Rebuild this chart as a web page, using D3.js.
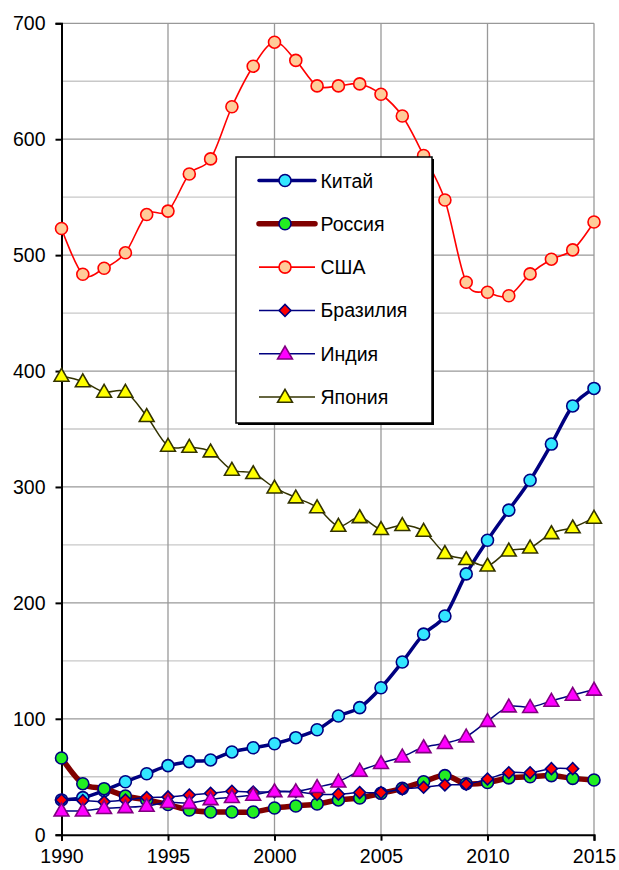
<!DOCTYPE html>
<html lang="ru">
<head>
  <meta charset="UTF-8">
  <script src="https://d3js.org/d3.v7.min.js"></script>
  <title>Chart</title>
  <style>
    body { margin: 0; background: white; font-family: "Liberation Sans", Arial, sans-serif; }
    svg text { font-family: "Liberation Sans", Arial, sans-serif; }
  </style>
</head>
<body>
<script>
  // Data
  const years = d3.range(1990, 2016);
  const china = [30, 32, 38, 45.7, 52.6, 59.6, 63, 64.5, 71.4, 75, 78.5, 83.7, 90.5, 102.4, 109.6, 126.8, 149, 173, 188.7, 225, 254, 280, 305.8, 337, 369.9, 385];
  const russia = [66.2, 44, 39.7, 33.4, 30, 26, 21.3, 19.6, 19.6, 19.6, 23, 24.8, 26.5, 30, 31.7, 35.7, 40, 45.7, 51, 44, 45, 49, 50, 51, 48.6, 47.2];
  const usa = [523, 483.5, 488.7, 502, 535, 538, 570, 583, 628, 663, 683.7, 668, 646, 646, 647.7, 638.8, 620, 586, 547.6, 476.6, 468, 465, 483.8, 496.5, 504.5, 528.6];
  const brazil = [30, 29.4, 28.5, 30, 32, 32.6, 34.2, 35.7, 37.4, 36.8, 37, 37, 34.8, 35, 36.3, 36.3, 39.4, 40.9, 42.9, 43.5, 48, 53.5, 53.5, 57, 57];
  const india = [20.7, 20.7, 22.8, 23.6, 24.8, 28, 27.3, 30.5, 32.3, 34.3, 37.4, 37.4, 41, 45.7, 55, 61.6, 67.3, 75.4, 78.9, 84.6, 98, 110.5, 110, 115.4, 120.5, 125];
  const japan = [395.8, 391, 382, 382, 361, 335.4, 334.5, 330.5, 314.7, 311.8, 299.4, 290.8, 282.3, 266.3, 273.8, 263.5, 267, 262, 242.8, 237.6, 232, 245, 247.6, 260, 265, 273.3];
  const yTicks = [0, 100, 200, 300, 400, 500, 600, 700];
  const xTicks = [1990, 1995, 2000, 2005, 2010, 2015];

  const series = [
    { name: "Китай", values: china, line: "#000080", width: 3.5, shape: "circle", fill: "#33e6ff", stroke: "#000080" },
    { name: "Россия", values: russia, line: "#800000", width: 5.5, shape: "circle", fill: "#22ee22", stroke: "#000080" },
    { name: "США", values: usa, line: "#ff0000", width: 1.6, shape: "circle", fill: "#ffcc99", stroke: "#ff0000" },
    { name: "Бразилия", values: brazil, line: "#000080", width: 1.5, shape: "diamond", fill: "#ff0000", stroke: "#000080" },
    { name: "Индия", values: india, line: "#000080", width: 1.5, shape: "triangle", fill: "#ff00ff", stroke: "#800080" },
    { name: "Япония", values: japan, line: "#333300", width: 1.5, shape: "triangle", fill: "#ffff00", stroke: "#333300" }
  ];

  const width = 619, height = 870;
  const svg = d3.select("body").append("svg")
    .attr("width", width)
    .attr("height", height);

  const x = d3.scaleLinear().domain([1990, 2015]).range([61.5, 594]);
  const y = d3.scaleLinear().domain([0, 700]).range([834.7, 23.3]);

  // Grid
  const grid = svg.append("g");
  grid.selectAll(".hminor")
    .data(d3.range(50, 700, 100))
    .enter().append("line")
    .attr("x1", x(1990)).attr("x2", x(2015))
    .attr("y1", d => y(d)).attr("y2", d => y(d))
    .attr("stroke", "#c8c8c8").attr("stroke-width", 1.3);
  grid.selectAll(".hmajor")
    .data(yTicks.slice(1))
    .enter().append("line")
    .attr("x1", x(1990)).attr("x2", x(2015))
    .attr("y1", d => y(d)).attr("y2", d => y(d))
    .attr("stroke", "#999").attr("stroke-width", 1.3);
  grid.selectAll(".vmajor")
    .data(xTicks.slice(1))
    .enter().append("line")
    .attr("x1", d => x(d)).attr("x2", d => x(d))
    .attr("y1", y(0)).attr("y2", y(700))
    .attr("stroke", "#999").attr("stroke-width", 1.3);

  // Axes
  const yAxis = svg.append("g")
    .attr("transform", `translate(${x(1990)},0)`)
    .call(d3.axisLeft(y).tickValues(yTicks).tickSize(6).tickPadding(10));
  const xAxis = svg.append("g")
    .attr("transform", `translate(0,${y(0)})`)
    .call(d3.axisBottom(x).tickValues(xTicks).tickFormat(d3.format("d")).tickSize(6).tickPadding(8));
  [yAxis, xAxis].forEach(a => {
    a.select(".domain").attr("stroke", "#000").attr("stroke-width", 2);
    a.selectAll(".tick line").attr("stroke", "#000").attr("stroke-width", 2);
    a.selectAll("text").attr("fill", "#000").style("font-size", "19.5px");
  });
  yAxis.selectAll("text").attr("dy", "0.34em");

  // Series
  const symbols = {
    circle: d3.symbol().type(d3.symbolCircle).size(Math.PI * 36),
    diamond: d3.symbol().type(d3.symbolSquare).size(70),
    triangle: d3.symbol().type(d3.symbolTriangle).size(95)
  };

  const line = d3.line()
    .x(d => x(d[0]))
    .y(d => y(d[1]))
    .curve(d3.curveCatmullRom.alpha(0));

  series.forEach(s => {
    const pts = s.values.map((v, i) => [years[i], v]);
    const g = svg.append("g");
    g.append("path")
      .datum(pts)
      .attr("d", line)
      .attr("fill", "none")
      .attr("stroke", s.line)
      .attr("stroke-width", s.width)
      .attr("stroke-linejoin", "round");
    g.selectAll("path.mark")
      .data(pts)
      .enter().append("path")
      .attr("class", "mark")
      .attr("d", symbols[s.shape])
      .attr("transform", d => `translate(${x(d[0])},${y(d[1]) + (s.shape === "triangle" ? 1 : 0)})` + (s.shape === "diamond" ? " rotate(45)" : ""))
      .attr("fill", s.fill)
      .attr("stroke", s.stroke)
      .attr("stroke-width", 1.6);
  });

  // Legend
  const legend = svg.append("g");
  legend.append("rect")
    .attr("x", 238).attr("y", 159).attr("width", 196).attr("height", 266)
    .attr("fill", "#000");
  legend.append("rect")
    .attr("x", 236).attr("y", 157).attr("width", 196).attr("height", 266)
    .attr("fill", "#fff").attr("stroke", "#000").attr("stroke-width", 1.5);

  const items = legend.selectAll(".item")
    .data(series)
    .enter().append("g")
    .attr("transform", (d, i) => `translate(0,${180.5 + i * 43.3})`);
  items.append("line")
    .attr("x1", 259).attr("x2", 315)
    .attr("stroke", d => d.line)
    .attr("stroke-width", d => d.width)
    .attr("stroke-linecap", d => d.width > 3 ? "round" : "butt");
  items.append("path")
    .attr("d", d => symbols[d.shape]())
    .attr("transform", d => `translate(285,${d.shape === "triangle" ? 1 : 0})` + (d.shape === "diamond" ? " rotate(45)" : ""))
    .attr("fill", d => d.fill)
    .attr("stroke", d => d.stroke)
    .attr("stroke-width", 1.6);
  items.append("text")
    .attr("x", 320.5)
    .attr("dy", "0.36em")
    .style("font-size", "19.5px")
    .attr("fill", "#000")
    .text(d => d.name);
</script>
</body>
</html>
